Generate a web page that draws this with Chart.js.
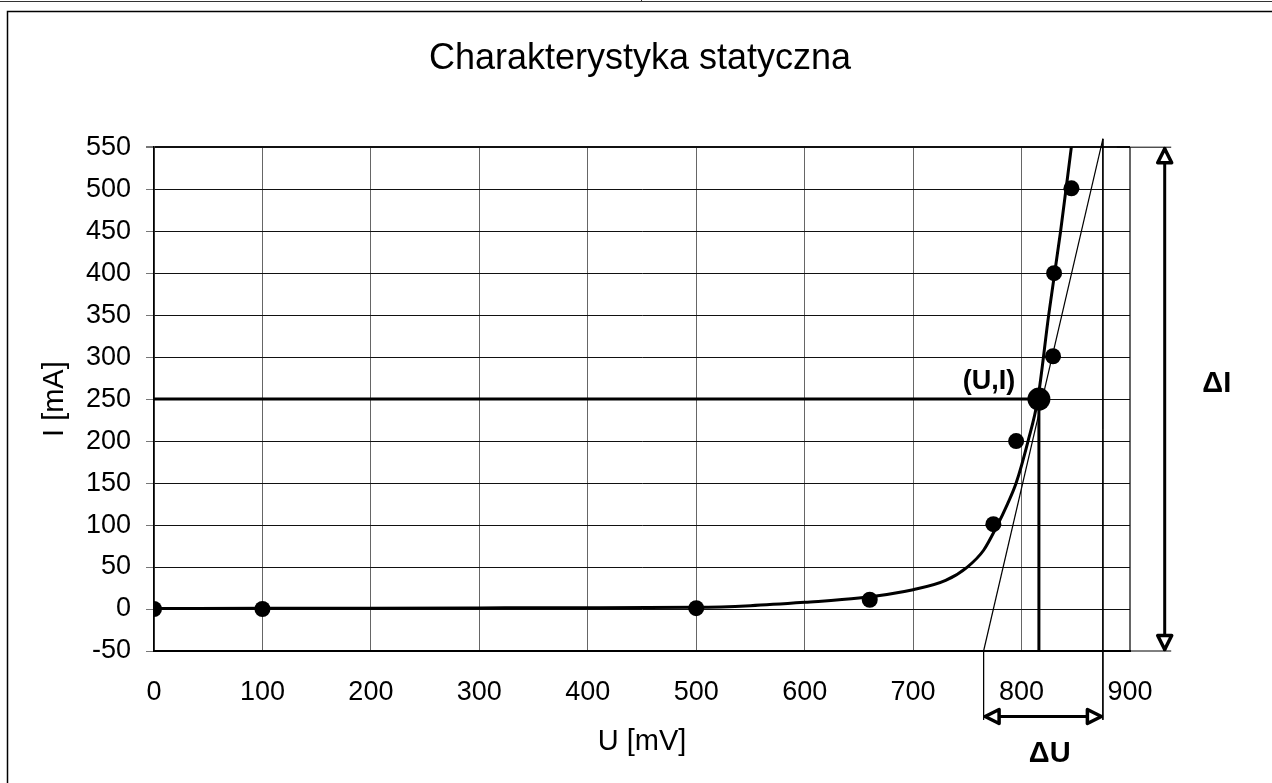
<!DOCTYPE html>
<html>
<head>
<meta charset="utf-8">
<title>Charakterystyka statyczna</title>
<script src="https://cdn.jsdelivr.net/npm/chart.js@4.4.0/dist/chart.umd.min.js"></script>
<style>
  html, body { margin: 0; padding: 0; background: #fff; }
  canvas { display: block; }
</style>
</head>
<body>
<canvas id="chart" width="1272" height="783"></canvas>
<script>
// punkty pomiarowe
const measuredU = [0, 100, 500, 660, 774, 795, 829, 830, 846];
const measuredI = [0, 0, 1, 11, 101, 200, 301, 400, 501];

// krzywa
const curveU = [0, 100, 200, 300, 400, 500, 550, 600, 650, 700, 730, 750, 765, 777, 787, 795, 806, 815, 825, 836, 846];
const curveI = [0.5, 0.8, 1, 1.3, 1.6, 2, 4, 8, 13, 23, 34, 50, 70, 98, 125, 150, 200, 250, 350, 450, 551];

// punkt pracy (U,I)
const pointU = [816];
const pointI = [250];

// styczna w punkcie pracy
const tangentU = [765, 875];
const tangentI = [-50, 560];

// zakresy ΔU i ΔI
const deltaU = [765, 875];
const deltaI = [-50, 550];
const deltaULevel = -128;   // mA, poziom strzałki ΔU (pod osią)
const deltaUExtEnd = -132;  // mA, koniec linii pomocniczych
const deltaIPos = 932;      // mV, położenie strzałki ΔI
const deltaIExt = [888, 938];

// etykiety osi
const xTicks = [0, 100, 200, 300, 400, 500, 600, 700, 800, 900];
const yTicks = [-50, 0, 50, 100, 150, 200, 250, 300, 350, 400, 450, 500, 550];

const FONT = "'Liberation Sans', Arial, Helvetica, sans-serif";

function zip(u, i) {
    return u.map((v, k) => ({ x: v, y: i[k] }));
}

function segment(points, width, noClip) {
    return {
        data: points,
        showLine: true,
        borderColor: "#000",
        borderWidth: width,
        pointRadius: 0,
        pointHoverRadius: 0,
        clip: noClip ? false : undefined
    };
}

function arrowHead(ctx, tx, ty, dx, dy) {
    const len = 14, half = 7;
    const ox = tx - dx * 1.5, oy = ty - dy * 1.5;
    const bx = ox - dx * len, by = oy - dy * len;
    const px = -dy, py = dx;
    ctx.beginPath();
    ctx.moveTo(ox, oy);
    ctx.lineTo(bx + px * half, by + py * half);
    ctx.lineTo(bx - px * half, by - py * half);
    ctx.closePath();
    ctx.fillStyle = "#fff";
    ctx.fill();
    ctx.lineWidth = 3.5;
    ctx.lineJoin = "round";
    ctx.strokeStyle = "#000";
    ctx.stroke();
}

// ramka wokół rysunku
const framePlugin = {
    id: "frame",
    beforeDraw(chart) {
        const { ctx, width, height } = chart;
        ctx.save();
        ctx.fillStyle = "#fff";
        ctx.fillRect(0, 0, width, height);
        ctx.strokeStyle = "#333";
        ctx.lineWidth = 1;
        ctx.beginPath();
        ctx.moveTo(0, 1.5); ctx.lineTo(width, 1.5);
        ctx.moveTo(641.5, 0); ctx.lineTo(641.5, 2);
        ctx.stroke();
        ctx.strokeStyle = "#000";
        ctx.lineWidth = 1.5;
        ctx.strokeRect(7.5, 11.5, width + 10, height + 10);
        ctx.restore();
    }
};

// groty strzałek i opisy
const notesPlugin = {
    id: "notes",
    afterDatasetsDraw(chart) {
        const { ctx, scales: { x, y } } = chart;
        ctx.save();
        // ΔU
        const uy = y.getPixelForValue(deltaULevel);
        arrowHead(ctx, x.getPixelForValue(deltaU[0]), uy, -1, 0);
        arrowHead(ctx, x.getPixelForValue(deltaU[1]), uy, 1, 0);
        // ΔI
        const ix = x.getPixelForValue(deltaIPos);
        arrowHead(ctx, ix, y.getPixelForValue(deltaI[1]), 0, -1);
        arrowHead(ctx, ix, y.getPixelForValue(deltaI[0]), 0, 1);

        ctx.fillStyle = "#000";
        ctx.textAlign = "center";
        ctx.textBaseline = "middle";
        ctx.font = "bold 27px " + FONT;
        ctx.fillText("(U,I)", x.getPixelForValue(770), y.getPixelForValue(271));
        ctx.font = "bold 29px " + FONT;
        ctx.fillText("ΔU", x.getPixelForValue(826), y.getPixelForValue(-173));
        ctx.fillText("ΔI", x.getPixelForValue(980), y.getPixelForValue(268));
        ctx.restore();
    }
};

const datasets = [
    {
        data: zip(pointU, pointI),
        pointRadius: 11.5,
        pointBackgroundColor: "#000",
        pointBorderWidth: 0,
        showLine: false
    },
    {
        data: zip(measuredU, measuredI),
        pointRadius: 8,
        pointBackgroundColor: "#000",
        pointBorderWidth: 0,
        showLine: false
    },
    Object.assign(segment(zip(curveU, curveI), 3), { cubicInterpolationMode: "monotone" }),
    segment(zip(tangentU, tangentI), 1.2, true),
    segment([{ x: 0, y: pointI[0] }, { x: pointU[0], y: pointI[0] }], 3),
    segment([{ x: pointU[0], y: pointI[0] }, { x: pointU[0], y: deltaI[0] }], 3),
    segment([{ x: deltaU[0], y: deltaI[0] }, { x: deltaU[0], y: deltaUExtEnd }], 1, true),
    segment([{ x: deltaU[1], y: tangentI[1] }, { x: deltaU[1], y: deltaUExtEnd }], 1, true),
    segment([{ x: deltaU[0], y: deltaULevel }, { x: deltaU[1], y: deltaULevel }], 3, true),
    segment([{ x: deltaIExt[0], y: deltaI[1] }, { x: deltaIExt[1], y: deltaI[1] }], 1, true),
    segment([{ x: deltaIExt[0], y: deltaI[0] }, { x: deltaIExt[1], y: deltaI[0] }], 1, true),
    segment([{ x: deltaIPos, y: deltaI[0] }, { x: deltaIPos, y: deltaI[1] }], 3, true)
];

new Chart(document.getElementById("chart").getContext("2d"), {
    type: "scatter",
    data: { datasets: datasets },
    options: {
        responsive: false,
        animation: false,
        devicePixelRatio: 1,
        events: [],
        layout: { padding: { left: 8, right: 0, top: 0, bottom: 0 } },
        plugins: {
            legend: { display: false },
            tooltip: { enabled: false },
            title: {
                display: true,
                text: "Charakterystyka statyczna",
                color: "#000",
                font: { family: FONT, size: 36, weight: "normal" },
                padding: { top: 37, bottom: 67 }
            }
        },
        scales: {
            x: {
                type: "linear",
                min: 0,
                max: 900,
                afterBuildTicks: s => { s.ticks = xTicks.map(v => ({ value: v })); },
                afterFit: s => { s.height = 132; },
                ticks: { color: "#000", font: { family: FONT, size: 27 }, padding: 25 },
                grid: {
                    color: "#666",
                    lineWidth: c => (c.tick && c.tick.value === 900 ? 2 : 1),
                    drawTicks: false
                },
                border: { color: "#000", width: 2 },
                title: {
                    display: true,
                    text: "U [mV]",
                    color: "#000",
                    font: { family: FONT, size: 29 },
                    padding: { top: 0, bottom: 24 }
                }
            },
            y: {
                type: "linear",
                min: -50,
                max: 550,
                afterBuildTicks: s => { s.ticks = yTicks.map(v => ({ value: v })); },
                afterFit: s => { s.width = 146; },
                ticks: { color: "#000", font: { family: FONT, size: 27 }, padding: 15 },
                grid: {
                    color: "#111",
                    tickColor: "#777",
                    tickLength: 8,
                    lineWidth: c => (c.tick && c.tick.value === 550 ? 2 : 1)
                },
                border: { color: "#000", width: 1.5 },
                title: {
                    display: true,
                    text: "I [mA]",
                    color: "#000",
                    font: { family: FONT, size: 29 },
                    padding: { top: 30, bottom: 0 }
                }
            },
            // pusta oś po prawej — miejsce na opis ΔI
            yRight: {
                type: "linear",
                position: "right",
                min: -50,
                max: 550,
                afterFit: s => { s.width = 142; },
                ticks: { display: false },
                grid: { display: false },
                border: { display: false }
            }
        }
    },
    plugins: [framePlugin, notesPlugin]
});
</script>
</body>
</html>
